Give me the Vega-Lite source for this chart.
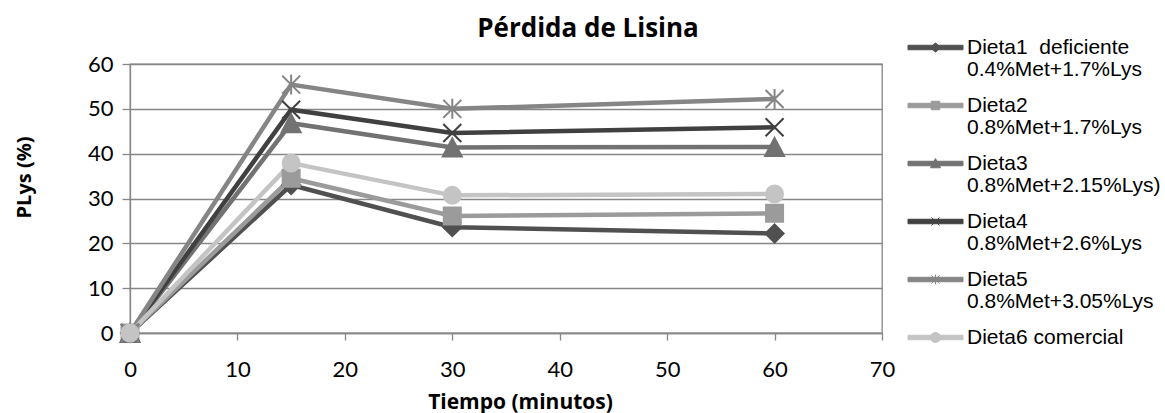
{
  "$schema": "https://vega.github.io/schema/vega-lite/v6.json",
  "width": 752,
  "height": 269,
  "autosize": {"type": "none"},
  "padding": {"left": 130, "top": 64, "right": 283, "bottom": 80},
  "background": "white",
  "title": {
    "text": "Pérdida de Lisina",
    "font": "Open Sans",
    "fontSize": 26,
    "fontWeight": "bold",
    "color": "black",
    "anchor": "middle",
    "frame": "group",
    "baseline": "alphabetic",
    "offset": 0,
    "dx": 82,
    "dy": 26
  },
  "data": {
    "values": [
      {"dieta": "Dieta1  deficiente\n0.4%Met+1.7%Lys", "tiempo": 0, "plys": 0},
      {"dieta": "Dieta1  deficiente\n0.4%Met+1.7%Lys", "tiempo": 15, "plys": 33.0},
      {"dieta": "Dieta1  deficiente\n0.4%Met+1.7%Lys", "tiempo": 30, "plys": 23.6},
      {"dieta": "Dieta1  deficiente\n0.4%Met+1.7%Lys", "tiempo": 60, "plys": 22.2},
      {"dieta": "Dieta2\n0.8%Met+1.7%Lys", "tiempo": 0, "plys": 0},
      {"dieta": "Dieta2\n0.8%Met+1.7%Lys", "tiempo": 15, "plys": 34.5},
      {"dieta": "Dieta2\n0.8%Met+1.7%Lys", "tiempo": 30, "plys": 26.1},
      {"dieta": "Dieta2\n0.8%Met+1.7%Lys", "tiempo": 60, "plys": 26.7},
      {"dieta": "Dieta3\n0.8%Met+2.15%Lys)", "tiempo": 0, "plys": 0},
      {"dieta": "Dieta3\n0.8%Met+2.15%Lys)", "tiempo": 15, "plys": 46.8},
      {"dieta": "Dieta3\n0.8%Met+2.15%Lys)", "tiempo": 30, "plys": 41.4},
      {"dieta": "Dieta3\n0.8%Met+2.15%Lys)", "tiempo": 60, "plys": 41.5},
      {"dieta": "Dieta4\n0.8%Met+2.6%Lys", "tiempo": 0, "plys": 0},
      {"dieta": "Dieta4\n0.8%Met+2.6%Lys", "tiempo": 15, "plys": 49.8},
      {"dieta": "Dieta4\n0.8%Met+2.6%Lys", "tiempo": 30, "plys": 44.6},
      {"dieta": "Dieta4\n0.8%Met+2.6%Lys", "tiempo": 60, "plys": 45.9},
      {"dieta": "Dieta5\n0.8%Met+3.05%Lys", "tiempo": 0, "plys": 0},
      {"dieta": "Dieta5\n0.8%Met+3.05%Lys", "tiempo": 15, "plys": 55.4},
      {"dieta": "Dieta5\n0.8%Met+3.05%Lys", "tiempo": 30, "plys": 50.0},
      {"dieta": "Dieta5\n0.8%Met+3.05%Lys", "tiempo": 60, "plys": 52.2},
      {"dieta": "Dieta6 comercial", "tiempo": 0, "plys": 0},
      {"dieta": "Dieta6 comercial", "tiempo": 15, "plys": 37.9},
      {"dieta": "Dieta6 comercial", "tiempo": 30, "plys": 30.7},
      {"dieta": "Dieta6 comercial", "tiempo": 60, "plys": 31.0}
    ]
  },
  "encoding": {
    "x": {
      "field": "tiempo",
      "type": "quantitative",
      "scale": {"domain": [0, 70], "nice": false, "zero": true},
      "axis": {
        "values": [0, 10, 20, 30, 40, 50, 60, 70],
        "grid": false,
        "domainColor": "#868686",
        "domainWidth": 1.3,
        "tickColor": "#868686",
        "tickWidth": 1.3,
        "tickSize": 7,
        "labelFont": "Lato",
        "labelFontSize": 22,
        "labelColor": "black",
        "labelBaseline": "alphabetic",
        "labelPadding": 36,
        "labelFlush": false,
        "title": "Tiempo (minutos)",
        "titleFont": "Open Sans",
        "titleFontSize": 21,
        "titleFontWeight": "bold",
        "titleColor": "black",
        "titleBaseline": "alphabetic",
        "titleAnchor": "start",
        "titleAlign": "center",
        "titleX": 390,
        "titleY": 75
      }
    },
    "y": {
      "field": "plys",
      "type": "quantitative",
      "scale": {"domain": [0, 60], "nice": false},
      "axis": {
        "values": [0, 10, 20, 30, 40, 50, 60],
        "grid": true,
        "gridColor": "#868686",
        "gridWidth": 1.3,
        "domainColor": "#868686",
        "domainWidth": 1.3,
        "tickColor": "#868686",
        "tickWidth": 1.3,
        "tickSize": 8,
        "labelFont": "Lato",
        "labelFontSize": 22,
        "labelColor": "black",
        "labelPadding": 9,
        "labelFlush": false,
        "title": "PLys (%)",
        "titleFont": "Open Sans",
        "titleFontSize": 20,
        "titleFontWeight": "bold",
        "titleColor": "black",
        "titleAngle": 270,
        "titleBaseline": "alphabetic",
        "titleAlign": "center",
        "titleAnchor": "start",
        "titleX": -100,
        "titleY": 113
      }
    },
    "color": {
      "field": "dieta",
      "type": "nominal",
      "scale": {
        "domain": [
          "Dieta1  deficiente\n0.4%Met+1.7%Lys",
          "Dieta2\n0.8%Met+1.7%Lys",
          "Dieta3\n0.8%Met+2.15%Lys)",
          "Dieta4\n0.8%Met+2.6%Lys",
          "Dieta5\n0.8%Met+3.05%Lys",
          "Dieta6 comercial"
        ],
        "range": ["#505050", "#9b9b9b", "#727272", "#404040", "#858585", "#c4c4c4"]
      },
      "legend": {
        "title": null,
        "orient": "none",
        "legendX": 795,
        "legendY": -27,
        "direction": "vertical",
        "columns": 1,
        "symbolSize": 100,
        "labelFont": "Liberation Sans",
        "labelFontSize": 21,
        "labelColor": "black",
        "labelBaseline": "top",
        "labelOffset": 21,
        "labelLimit": 400,
        "rowPadding": 14,
        "labelExpr": "split(replace(datum.label, '  ', '\u00a0 '), '\\n')",
        "encode": {
          "labels": {"update": {"lineHeight": {"value": 22}, "dy": {"value": -11}}},
          "symbols": {
            "update": {
              "shape": {
                "signal": "indexof(datum.value, 'Dieta1') >= 0 ? 'M-5.5,-0.45H5.5V0.45H-5.5Z M0,-0.95L0.95,0L0,0.95L-0.95,0Z' : indexof(datum.value, 'Dieta2') >= 0 ? 'M-5.5,-0.45H5.5V0.45H-5.5Z M-0.85,-0.85H0.85V0.85H-0.85Z' : indexof(datum.value, 'Dieta3') >= 0 ? 'M-5.5,-0.45H5.5V0.45H-5.5Z M0,-1L1,0.85H-1Z' : indexof(datum.value, 'Dieta4') >= 0 ? 'M-5.5,-0.45H5.5V0.45H-5.5Z M-0.8,-0.8L0.8,0.8M0.8,-0.8L-0.8,0.8' : indexof(datum.value, 'Dieta5') >= 0 ? 'M-5.5,-0.45H5.5V0.45H-5.5Z M-0.8,-0.8L0.8,0.8M0.8,-0.8L-0.8,0.8M0,-0.95V0.95' : 'M-5.5,-0.45H5.5V0.45H-5.5Z M-1,0A1,1,0,1,1,1,0A1,1,0,1,1,-1,0Z'"
              },
              "size": {"value": 100},
              "fill": {"scale": "color", "field": "value"},
              "stroke": {"scale": "color", "field": "value"},
              "strokeWidth": {"value": 1},
              "opacity": {"value": 1},
              "fillOpacity": {"value": 1}
            }
          }
        }
      }
    }
  },
  "layer": [
    {
      "mark": {"type": "line", "strokeWidth": 4.5, "strokeJoin": "miter"}
    },
    {
      "transform": [{"filter": {"field": "dieta", "equal": "Dieta1  deficiente\n0.4%Met+1.7%Lys"}}],
      "mark": {"type": "point", "filled": true, "size": 400, "opacity": 1, "stroke": "#505050", "strokeWidth": 2, "shape": "M0,-0.9L0.9,0L0,0.9L-0.9,0Z"}
    },
    {
      "transform": [{"filter": {"field": "dieta", "equal": "Dieta2\n0.8%Met+1.7%Lys"}}],
      "mark": {"type": "point", "filled": true, "size": 400, "opacity": 1, "stroke": "#9b9b9b", "strokeWidth": 2, "shape": "M-0.85,-0.85H0.85V0.85H-0.85Z"}
    },
    {
      "transform": [{"filter": {"field": "dieta", "equal": "Dieta3\n0.8%Met+2.15%Lys)"}}],
      "mark": {"type": "point", "filled": true, "size": 400, "opacity": 1, "stroke": "#727272", "strokeWidth": 2, "shape": "M0,-0.9L0.95,0.9H-0.95Z"}
    },
    {
      "transform": [{"filter": {"field": "dieta", "equal": "Dieta4\n0.8%Met+2.6%Lys"}}],
      "mark": {"type": "point", "filled": true, "size": 400, "opacity": 1, "stroke": "#404040", "strokeWidth": 2, "shape": "M-0.9,-0.9L0.9,0.9M0.9,-0.9L-0.9,0.9"}
    },
    {
      "transform": [{"filter": {"field": "dieta", "equal": "Dieta5\n0.8%Met+3.05%Lys"}}],
      "mark": {"type": "point", "filled": true, "size": 400, "opacity": 1, "stroke": "#858585", "strokeWidth": 2, "shape": "M-0.9,-0.9L0.9,0.9M0.9,-0.9L-0.9,0.9M0,-1V1"}
    },
    {
      "transform": [{"filter": {"field": "dieta", "equal": "Dieta6 comercial"}}],
      "mark": {"type": "point", "filled": true, "size": 400, "opacity": 1, "stroke": "#c4c4c4", "strokeWidth": 2, "shape": "M-0.85,0A0.85,0.85,0,1,1,0.85,0A0.85,0.85,0,1,1,-0.85,0Z"}
    }
  ],
  "config": {
    "view": {"stroke": "#868686", "strokeWidth": 1.3},
    "font": "Lato"
  }
}
